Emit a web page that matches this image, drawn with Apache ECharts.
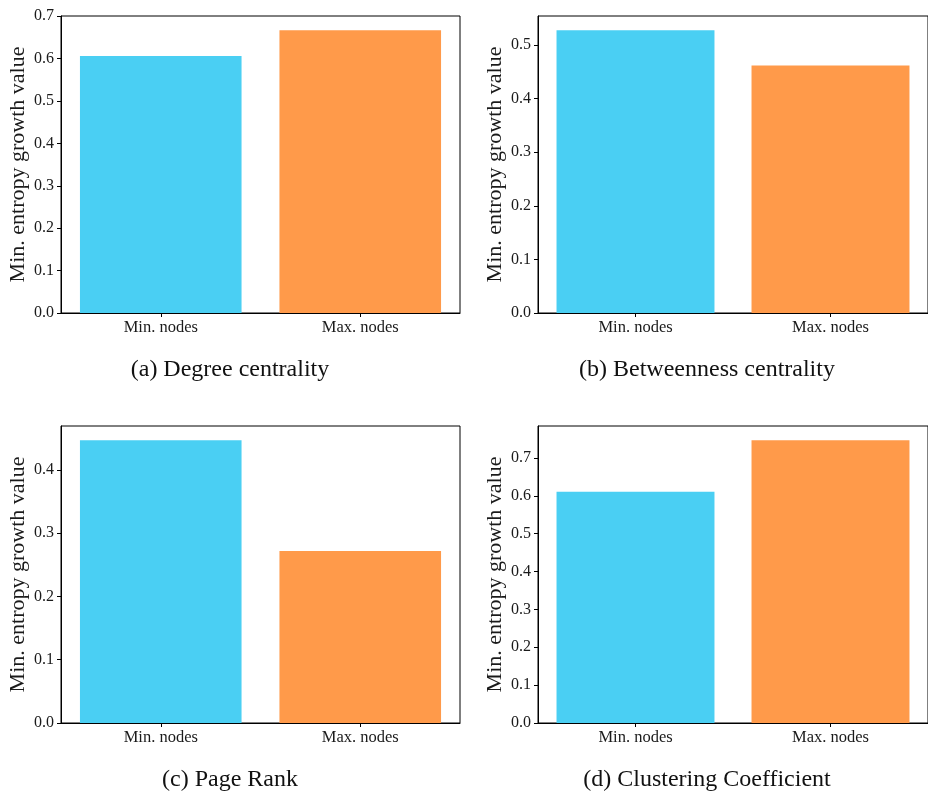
<!DOCTYPE html>
<html>
<head>
<meta charset="utf-8">
<script src="https://cdn.jsdelivr.net/npm/echarts@6/dist/echarts.min.js"></script>
<style>
  html, body { margin: 0; padding: 0; background: #fff; }
  #chart { width: 928px; height: 791px; }
</style>
</head>
<body>
<div id="chart"></div>
<script>
// ---- data ----
const categories = ['Min. nodes', 'Max. nodes'];
const degreeValues = [0.606, 0.667];
const betweennessValues = [0.528, 0.462];
const pageRankValues = [0.447, 0.272];
const clusteringValues = [0.611, 0.747];
const captions = ['(a) Degree centrality', '(b) Betweenness centrality', '(c) Page Rank', '(d) Clustering Coefficient'];
const yTicksA = [0.0, 0.1, 0.2, 0.3, 0.4, 0.5, 0.6, 0.7];
const yTicksB = [0.0, 0.1, 0.2, 0.3, 0.4, 0.5];
const yTicksC = [0.0, 0.1, 0.2, 0.3, 0.4];
const yTicksD = [0.0, 0.1, 0.2, 0.3, 0.4, 0.5, 0.6, 0.7];
const yAxisTitle = 'Min. entropy growth value';
const barColors = ['#4ACFF3', '#FF9A4A'];

// ---- layout ----
const FONT = '"Liberation Serif", "DejaVu Serif", serif';
const panels = [
  { values: degreeValues, ticks: yTicksA, left: 61, top: 16, cx: 230, cy: 370 },
  { values: betweennessValues, ticks: yTicksB, left: 538, top: 16, cx: 707, cy: 370 },
  { values: pageRankValues, ticks: yTicksC, left: 61, top: 426, cx: 230, cy: 780 },
  { values: clusteringValues, ticks: yTicksD, left: 538, top: 426, cx: 707, cy: 780 }
];
const W = 399, H = 297;

const grid = [], xAxis = [], yAxis = [], series = [], graphic = [];
panels.forEach((p, i) => {
  grid.push({ left: p.left, top: p.top, width: W, height: H, show: true,
    borderColor: '#000', borderWidth: 1, backgroundColor: 'transparent' });
  xAxis.push({
    type: 'category', gridIndex: i, data: categories,
    axisLine: { show: true, lineStyle: { color: '#000', width: 1 } },
    axisTick: { show: true, alignWithLabel: true, length: 4, lineStyle: { color: '#000' } },
    axisLabel: { fontFamily: FONT, fontSize: 16.5, color: '#1a1a1a', margin: 6 },
    splitLine: { show: false }
  });
  const ymax = Math.max(...p.values) * 1.05;
  yAxis.push({
    type: 'value', gridIndex: i, min: 0, max: ymax,
    name: yAxisTitle, nameLocation: 'middle', nameGap: 32,
    nameTextStyle: { fontFamily: FONT, fontSize: 22, color: '#1a1a1a' },
    axisLine: { show: true, lineStyle: { color: '#000', width: 1 } },
    axisTick: { show: true, length: 4, lineStyle: { color: '#000' }, customValues: p.ticks },
    axisLabel: { fontFamily: FONT, fontSize: 16, color: '#1a1a1a', margin: 7,
      customValues: p.ticks, formatter: v => v.toFixed(1) },
    splitLine: { show: false }
  });
  series.push({
    type: 'bar', xAxisIndex: i, yAxisIndex: i,
    barCategoryGap: '19%',
    data: p.values.map((v, k) => ({ value: v, itemStyle: { color: barColors[k] } })),
    animation: false
  });
  graphic.push({
    type: 'text', x: p.cx, y: p.cy,
    style: { text: captions[i], font: '24px ' + FONT, fill: '#111',
      textAlign: 'center', textVerticalAlign: 'middle' }
  });
});

const chart = echarts.init(document.getElementById('chart'), null, { renderer: 'canvas' });
chart.setOption({ backgroundColor: '#fff', animation: false, grid, xAxis, yAxis, series, graphic });
</script>
</body>
</html>
